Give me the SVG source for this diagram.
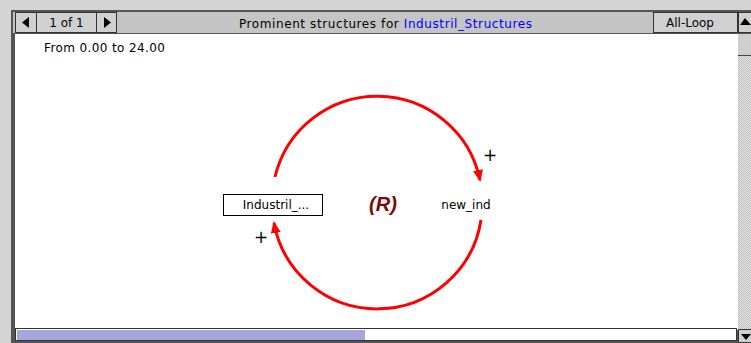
<svg xmlns="http://www.w3.org/2000/svg" width="751" height="343" viewBox="0 0 751 343">
<defs>
<style>
.t{font-family:"DejaVu Sans",Verdana,sans-serif;font-size:12px;fill:#000}
.big{font-size:17px}
.btn{fill:#d0d0d0;stroke:#333;stroke-width:1}
.link{fill:none;stroke:#ff0000;stroke-width:3}
</style>
<pattern id="chk" width="2" height="2" patternUnits="userSpaceOnUse">
<rect width="2" height="2" fill="#e6e6e6"/>
<rect width="1" height="1" fill="#bdbdbd"/>
<rect x="1" y="1" width="1" height="1" fill="#bdbdbd"/>
</pattern>
<marker id="ah" markerWidth="14" markerHeight="12" refX="10" refY="5" orient="auto" markerUnits="userSpaceOnUse">
<path d="M0,0 L12,5 L0,10 Z" fill="#ff0000"/>
</marker>
</defs>
<rect width="751" height="343" fill="#d4d4d4"/>
<rect x="11" y="10" width="740" height="333" fill="#555"/>
<rect x="15" y="34" width="723" height="296" fill="#fff"/>
<!-- toolbar -->
<rect x="13" y="12" width="738" height="22" fill="#c4c4c4"/>
<line x1="13" y1="33.5" x2="751" y2="33.5" stroke="#555"/>
<rect class="btn" x="15.5" y="12.5" width="21" height="20"/>
<path d="M29,17 L22,22.5 L29,28 Z" fill="#000"/>
<rect class="btn" x="36.5" y="12.5" width="60" height="20"/>
<text class="t" x="66.5" y="27" text-anchor="middle">1 of 1</text>
<rect class="btn" x="96.5" y="12.5" width="20" height="20"/>
<path d="M104,17 L111,22.5 L104,28 Z" fill="#000"/>
<text class="t" x="239" y="27.5" textLength="293">Prominent structures for <tspan fill="#0000ff">Industril_Structures</tspan></text>
<rect class="btn" x="653.5" y="12.5" width="84" height="20"/>
<text class="t" x="690" y="27" text-anchor="middle">All-Loop</text>
<rect class="btn" x="738.5" y="12.5" width="14" height="20"/>
<path d="M745,18 L751,25 L740,25 Z" fill="#000"/>
<!-- scrollbar -->
<rect x="738" y="34" width="13" height="296" fill="url(#chk)"/>
<rect x="738" y="34" width="13" height="22" fill="#cfcfcf"/>
<line x1="738" y1="55.5" x2="751" y2="55.5" stroke="#444"/>
<rect class="btn" x="738.5" y="329.5" width="14" height="13"/>
<path d="M741,334 L751,334 L746,340 Z" fill="#000"/>
<!-- bottom bar -->
<rect x="15.5" y="328.5" width="721" height="12" fill="#fff" stroke="#333"/>
<rect x="17" y="330" width="348" height="10" fill="#a6a6dc"/>
<text class="t" x="44" y="52" textLength="121">From 0.00 to 24.00</text>
<g id="connectors">
<path class="link" d="M275,177 A105,105 0 0 1 480,180" marker-end="url(#ah)"/>
<path class="link" d="M481,220 A105,105 0 0 1 274,223" marker-end="url(#ah)"/>
</g>
<g id="node-industril">
<rect x="223.5" y="194.5" width="99" height="21" fill="#fff" stroke="#000"/>
<text class="t" x="276" y="209" text-anchor="middle">Industril_...</text>
</g>
<g id="node-new_ind">
<text class="t" x="466" y="209" text-anchor="middle">new_ind</text>
</g>
<g id="loop">
<text x="383" y="211" text-anchor="middle" font-family="'Liberation Sans',Arial,sans-serif" font-size="20" font-style="italic" font-weight="bold" fill="#7a0a0a">(R)</text>
</g>
<g id="polarity">
<text class="t big" x="490" y="161" text-anchor="middle">+</text>
<text class="t big" x="261" y="243" text-anchor="middle">+</text>
</g>
</svg>
